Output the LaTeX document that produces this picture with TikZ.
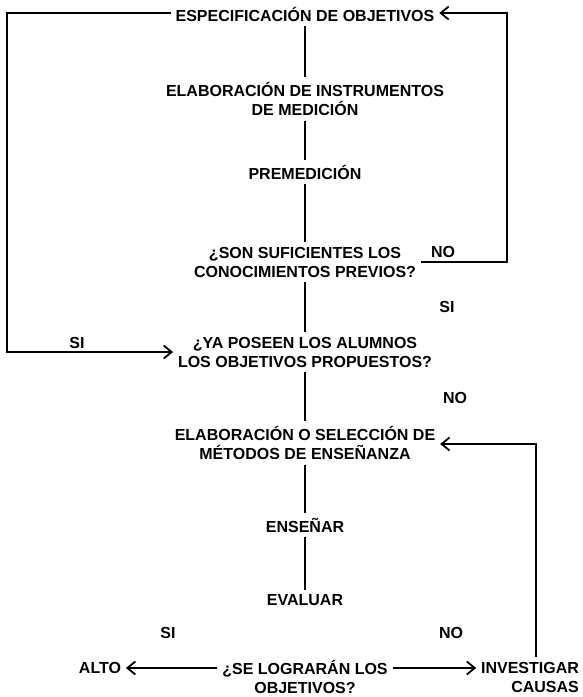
\documentclass[tikz,border=0pt]{standalone}
\usepackage{fontspec}
\setmainfont{Liberation Sans}
\usetikzlibrary{arrows.meta,positioning}

\begin{document}
\begin{tikzpicture}[%
    x=1pt, y=-1pt,
    >={Straight Barb[length=8pt,width=13pt]},
    line width=1.8pt,
    paso/.style={font=\bfseries\fontsize{16}{19}\selectfont, align=center, inner sep=4pt},
    resp/.style={font=\bfseries\fontsize{16}{19}\selectfont, inner sep=2pt},
  ]
  \useasboundingbox (0,0) rectangle (582,697);

  % --- main column ---
  \node[paso] (espec) at (305,14) {ESPECIFICACIÓN DE OBJETIVOS};
  \node[paso] (instr) at (305,99) {ELABORACIÓN DE INSTRUMENTOS\\DE MEDICIÓN};
  \node[paso] (premed) at (305,172) {PREMEDICIÓN};
  \node[paso] (conoc) at (305,262) {¿SON SUFICIENTES LOS\\CONOCIMIENTOS PREVIOS?};
  \node[paso] (poseen) at (305,352) {¿YA POSEEN LOS ALUMNOS\\LOS OBJETIVOS PROPUESTOS?};
  \node[paso] (metodos) at (305,443) {ELABORACIÓN O SELECCIÓN DE\\MÉTODOS DE ENSEÑANZA};
  \node[paso] (ensenar) at (305,525) {ENSEÑAR};
  \node[paso] (evaluar) at (305,600) {EVALUAR};
  \node[paso] (logra) at (305,677) {¿SE LOGRARÁN LOS\\OBJETIVOS?};
  \node[paso] (alto) at (100,668) {ALTO};
  \node[paso, align=right] (invest) at (530,677) {INVESTIGAR\\CAUSAS};

  % --- answers ---
  \node[resp] (no1) at (443,252) {NO};
  \node[resp] (si1) at (447,307) {SI};
  \node[resp] (si2) at (77,343) {SI};
  \node[resp] (no2) at (455,398) {NO};
  \node[resp] (si3) at (168,633) {SI};
  \node[resp] (no3) at (451,633) {NO};

  % --- loop corners ---
  \coordinate (izq) at (7,13);
  \coordinate (izqb) at (7,352);
  \coordinate (der) at (507,13);
  \coordinate (derb) at (507,262);
  \coordinate (bucle) at (536,444);

  % --- connectors ---
  \draw (espec) -- (instr);
  \draw (instr) -- (premed);
  \draw (premed) -- (conoc);
  \draw (conoc) -- (poseen);
  \draw (poseen) -- (metodos);
  \draw (metodos) -- (ensenar);
  \draw (ensenar) -- (evaluar);

  \draw[->] (espec.west |- izq) -- (izq) -- (izqb) -- (poseen.west |- izqb);
  \draw[->] (conoc.east |- derb) -- (derb) -- (der) -- (espec.east |- der);
  \draw[->] (invest.north -| bucle) -- (bucle) -- (metodos.east |- bucle);
  \draw[->] (logra.west |- alto) -- (alto);
  \draw[->] (logra.east |- alto) -- (invest.west |- alto);
\end{tikzpicture}
\end{document}
